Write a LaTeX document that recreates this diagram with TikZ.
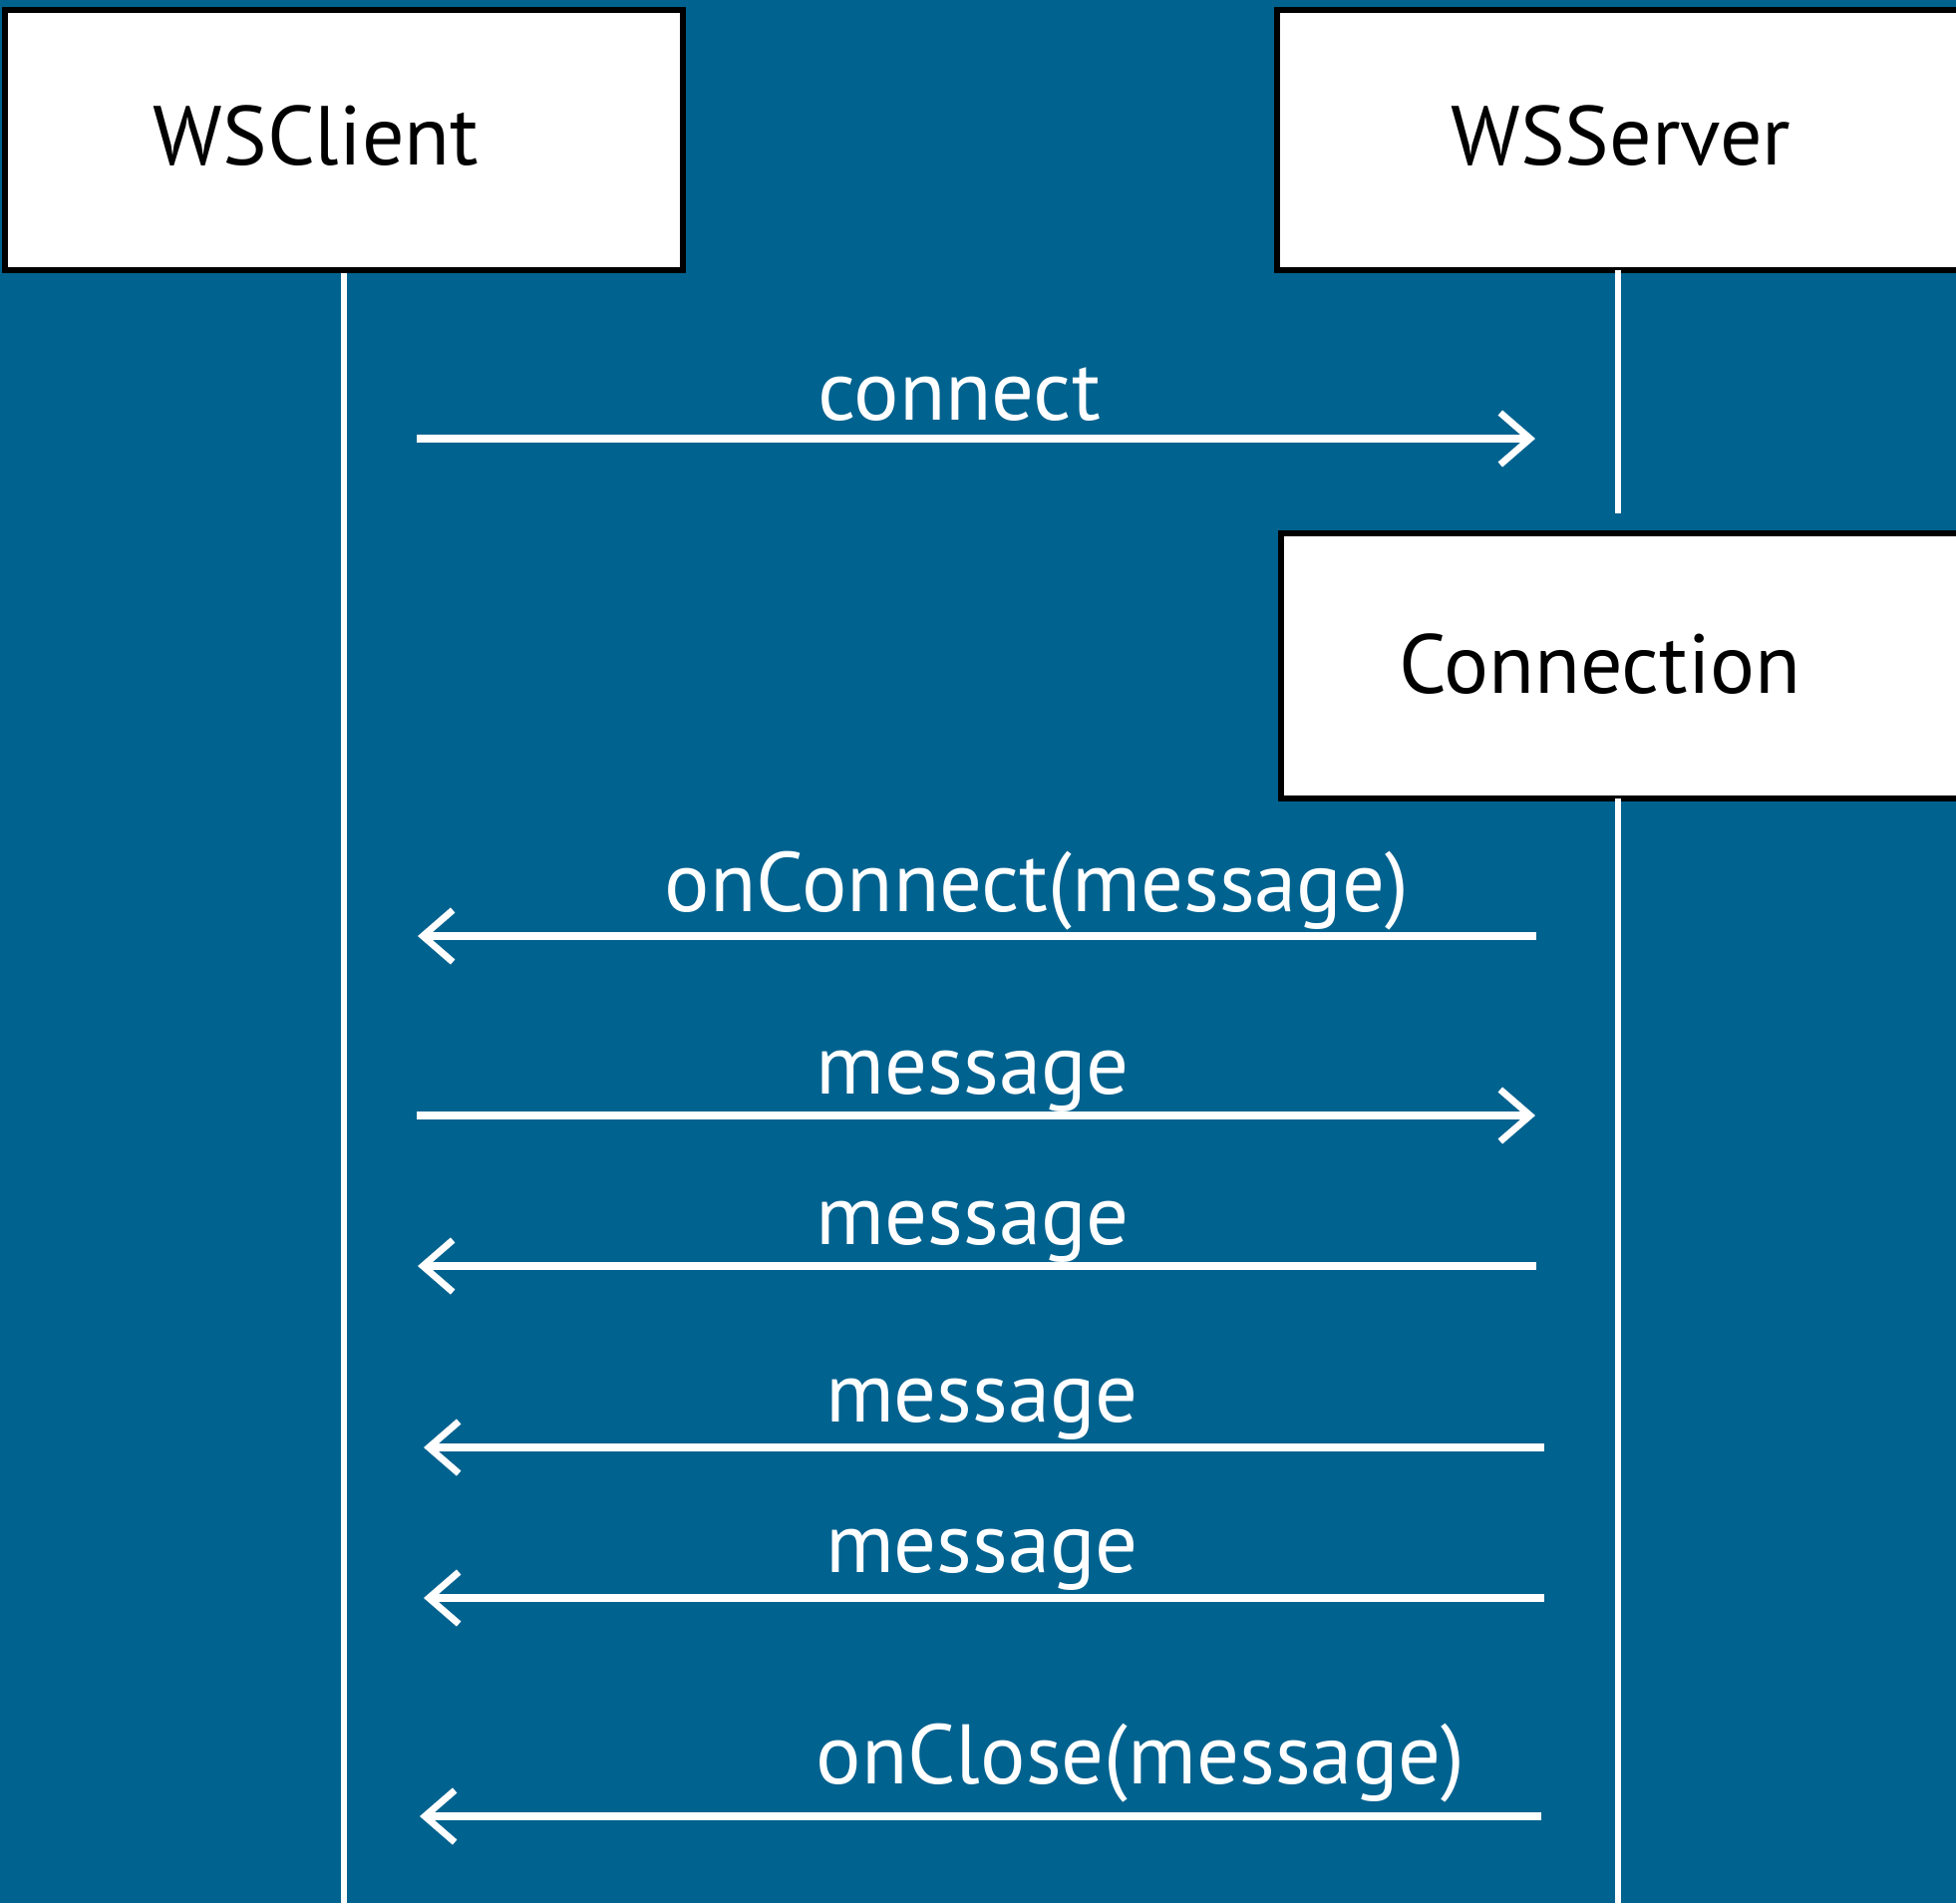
\documentclass[tikz,border=0pt]{standalone}
\usepackage{fontspec}
\setmainfont{PT Sans}
\usetikzlibrary{arrows.meta}
\definecolor{bgblue}{RGB}{0,98,143}
\begin{document}
\begin{tikzpicture}[x=0.25pt,y=-0.25pt,
  box/.style={draw=black,fill=white,line width=1.6pt,inner sep=0pt,rectangle},
  boxtext/.style={anchor=base,font=\fontsize{21pt}{25pt}\selectfont,text=black,inner sep=0pt},
  msgtext/.style={anchor=base,font=\fontsize{21.2pt}{25pt}\selectfont,text=white,inner sep=0pt},
  life/.style={draw=white,line width=1.5pt},
  msg/.style={draw=white,line width=1.9pt,-{Straight Barb[length=7.5pt,width=13pt,line width=1.7pt]}}]
\useasboundingbox (0,0) rectangle (1962,1909);
\fill[bgblue] (0,0) rectangle (1962,1909);
\clip (0,0) rectangle (1962,1909);

% boxes
\node[box,minimum width=170pt,minimum height=65.25pt] (client) at (345,140.5) {};
\node[box,minimum width=177.25pt,minimum height=65.25pt] (server) at (1635.5,140.5) {};
\node[box,minimum width=176.25pt,minimum height=66.5pt] (conn) at (1637.5,668) {};
\node[boxtext] (clientt) at (317,165) {WSClient};
\node[boxtext] (servert) at (1626,165) {WSServer};
\node[boxtext] (connt) at (1605,695) {Connection};

% lifelines
\coordinate (cbot) at (345,1915);
\coordinate (stop) at (1623,271);
\coordinate (smid) at (1623,515);
\coordinate (sres) at (1623,801);
\coordinate (sbot) at (1623,1915);
\draw[life] (client.south) -- (cbot);
\draw[life] (stop) -- (smid);
\draw[life] (sres) -- (sbot);

% messages
\coordinate (m1a) at (418,440);  \coordinate (m1b) at (1540,440);
\coordinate (m2a) at (1541,939); \coordinate (m2b) at (419,939);
\coordinate (m3a) at (418,1119); \coordinate (m3b) at (1540,1119);
\coordinate (m4a) at (1541,1270); \coordinate (m4b) at (419,1270);
\coordinate (m5a) at (1549,1452); \coordinate (m5b) at (425,1452);
\coordinate (m6a) at (1549,1603); \coordinate (m6b) at (425,1603);
\coordinate (m7a) at (1546,1822); \coordinate (m7b) at (421,1822);
\draw[msg] (m1a) -- (m1b);
\draw[msg] (m2a) -- (m2b);
\draw[msg] (m3a) -- (m3b);
\draw[msg] (m4a) -- (m4b);
\draw[msg] (m5a) -- (m5b);
\draw[msg] (m6a) -- (m6b);
\draw[msg] (m7a) -- (m7b);

\node[msgtext] (l1) at (962,421) {connect};
\node[msgtext] (l2) at (1040,914) {onConnect(message)};
\node[msgtext] (l3) at (976,1097) {message};
\node[msgtext] (l4) at (976,1248) {message};
\node[msgtext] (l5) at (985,1426) {message};
\node[msgtext] (l6) at (985,1577) {message};
\node[msgtext] (l7) at (1144,1789) {onClose(message)};
\end{tikzpicture}
\end{document}
